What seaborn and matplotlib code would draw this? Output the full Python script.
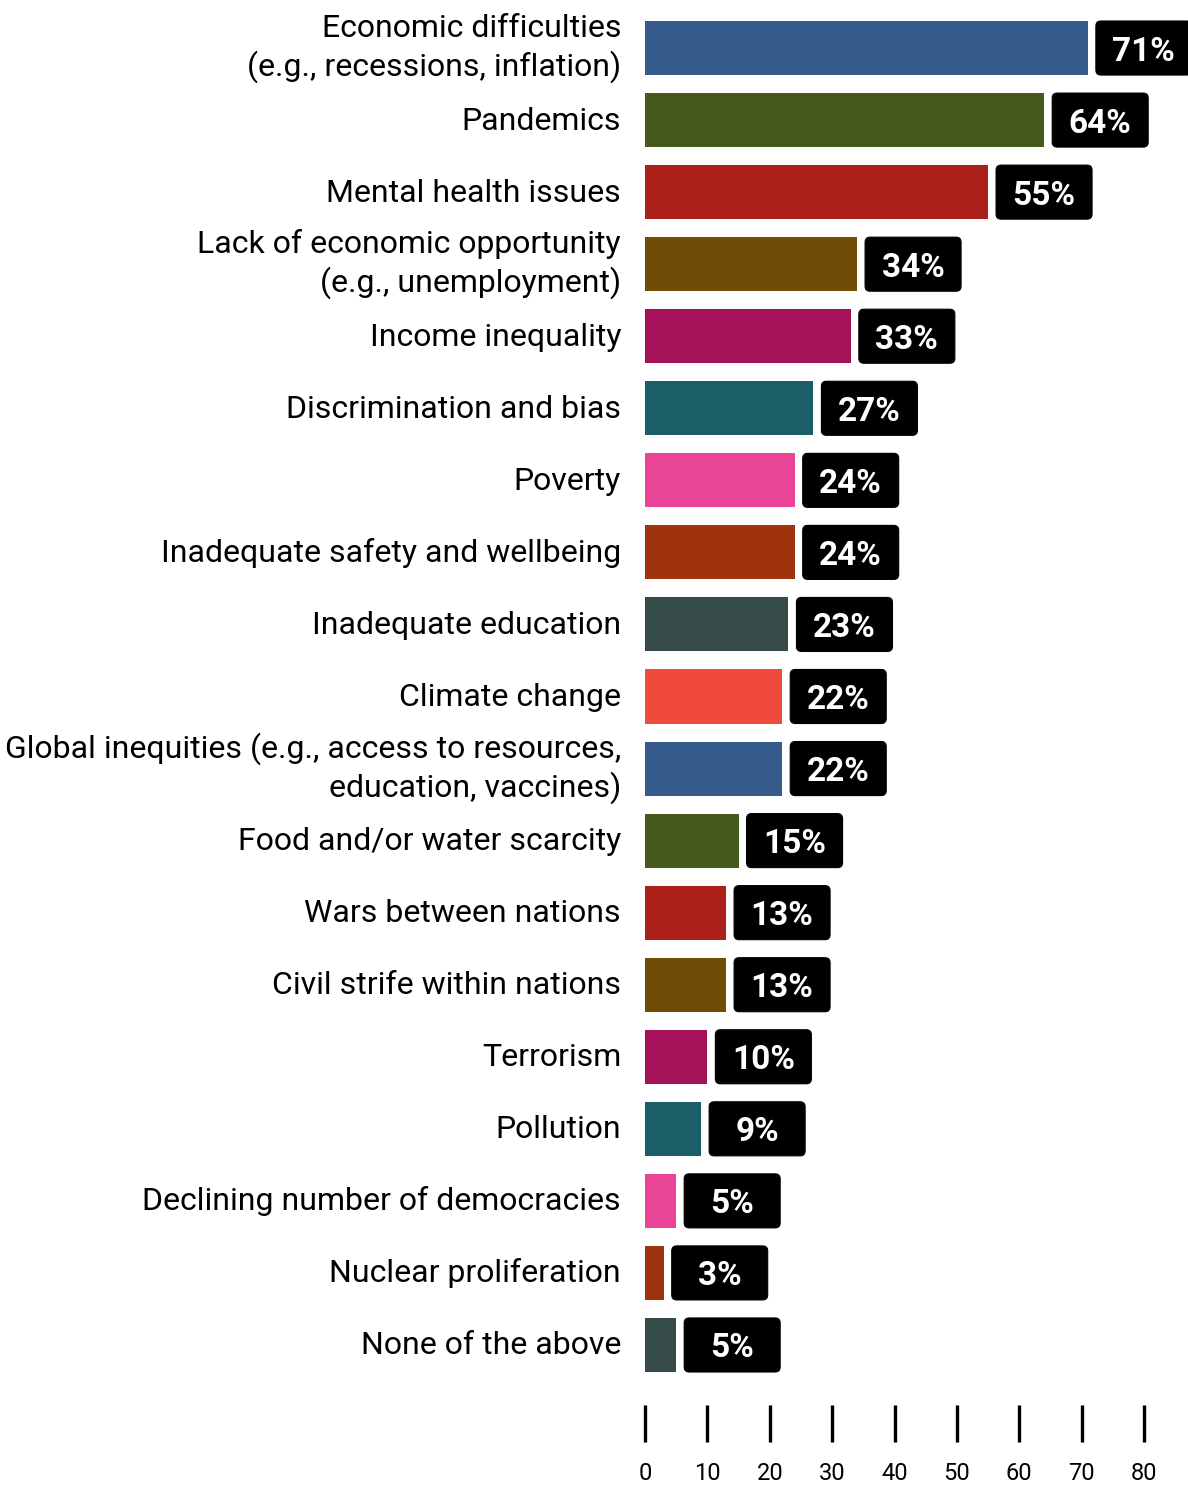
import matplotlib
matplotlib.use("Agg")
import matplotlib.pyplot as plt
import matplotlib.transforms as mtransforms
from matplotlib.patches import FancyBboxPatch
import seaborn as sns
import pandas as pd

categories = [
    "Economic difficulties\n(e.g., recessions, inflation)",
    "Pandemics",
    "Mental health issues",
    "Lack of economic opportunity\n(e.g., unemployment)",
    "Income inequality",
    "Discrimination and bias",
    "Poverty",
    "Inadequate safety and wellbeing",
    "Inadequate education",
    "Climate change",
    "Global inequities (e.g., access to resources,\neducation, vaccines)",
    "Food and/or water scarcity",
    "Wars between nations",
    "Civil strife within nations",
    "Terrorism",
    "Pollution",
    "Declining number of democracies",
    "Nuclear proliferation",
    "None of the above",
]
values = [71, 64, 55, 34, 33, 27, 24, 24, 23, 22, 22, 15, 13, 13, 10, 9, 5, 3, 5]
palette = [
    "#365A8A", "#455A1C", "#AB2119", "#6E4C06", "#A51257",
    "#1B5E67", "#EA4496", "#9E320D", "#364B49", "#F04A3C",
    "#365A8A", "#455A1C", "#AB2119", "#6E4C06", "#A51257",
    "#1B5E67", "#EA4496", "#9E320D", "#364B49",
]
x_ticks = [0, 10, 20, 30, 40, 50, 60, 70, 80]

sns.set_style("white")
plt.rcParams["font.family"] = ["Roboto", "DejaVu Sans"]

df = pd.DataFrame({"category": categories, "value": values})

W, H, DPI = 1188, 1485, 100
fig = plt.figure(figsize=(W / DPI, H / DPI), dpi=DPI)
left, right = 645 / W, 1144 / W
top, bottom = 1 - 12 / H, 1 - 1381 / H
ax = fig.add_axes([left, bottom, right - left, top - bottom])

sns.barplot(data=df, x="value", y="category", hue="category",
            palette=palette, legend=False, width=0.75, saturation=1,
            linewidth=0, ax=ax, orient="h")

ax.set_xlim(0, 80)
ax.set_ylim(len(categories) - 0.5, -0.5)
ax.set_xlabel("")
ax.set_ylabel("")
for s in ax.spines.values():
    s.set_visible(False)

ax.set_xticks(x_ticks)
ax.set_xticklabels([str(t) for t in x_ticks])
ax.spines["bottom"].set_position(("outward", 17))
ax.tick_params(axis="x", bottom=True, direction="out", length=26.5, width=2.4,
               color="black", pad=15, labelsize=17, labelcolor="black")
ax.tick_params(axis="y", left=False, labelleft=False, length=0)

# category names, right-aligned to the left of the bars, one text per line
label_base = mtransforms.blended_transform_factory(ax.transAxes, ax.transData)
line_step = 39  # px between baselines
for i, name in enumerate(categories):
    lines = name.split("\n")
    if len(lines) == 1:
        offsets = [9.5]
    else:
        offsets = [-11, -11 + line_step]
    for line, off in zip(lines, offsets):
        tr = label_base + mtransforms.ScaledTranslation(-24 / DPI, -off / DPI,
                                                        fig.dpi_scale_trans)
        ax.text(0, i, line, transform=tr, ha="right", va="baseline",
                fontsize=23, color="black", clip_on=False)

# value badges: black rounded boxes to the right of each bar
fig.canvas.draw()
x_ppu = ax.transData.transform((1, 0))[0] - ax.transData.transform((0, 0))[0]
y_ppu = abs(ax.transData.transform((0, 1))[1] - ax.transData.transform((0, 0))[1])
gap = 8 / x_ppu
box_w = 96 / x_ppu
box_h = 0.75
for i, v in enumerate(values):
    x0 = v + gap
    patch = FancyBboxPatch((x0, i - box_h / 2), box_w, box_h,
                           boxstyle="round,pad=0,rounding_size=%f" % (5 / x_ppu),
                           mutation_aspect=x_ppu / y_ppu,
                           facecolor="black", edgecolor="black", lw=0.8,
                           clip_on=False, zorder=3)
    ax.add_patch(patch)
    ax.text(x0 + box_w / 2, i, f"{v}%", ha="center", va="center_baseline",
            color="white", fontsize=24, fontweight="bold", zorder=4,
            clip_on=False)

fig.savefig("out.png", dpi=DPI, facecolor="white")
